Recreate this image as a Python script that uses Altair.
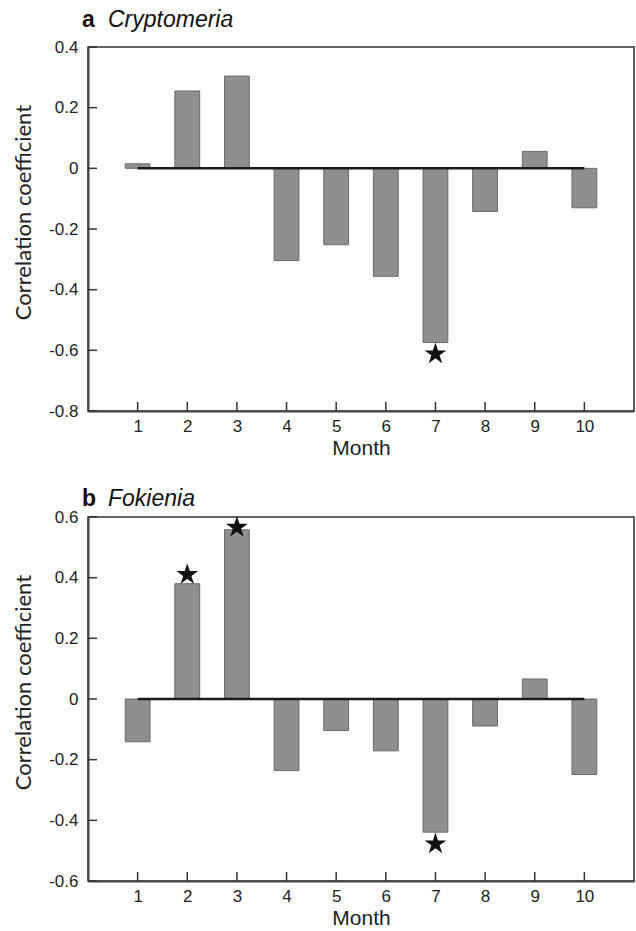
import altair as alt
import pandas as pd

# ---- data ----
months = [1, 2, 3, 4, 5, 6, 7, 8, 9, 10]
cryptomeria_r = [0.015, 0.255, 0.304, -0.304, -0.252, -0.356, -0.574, -0.142, 0.056, -0.130]
fokienia_r = [-0.141, 0.380, 0.558, -0.236, -0.104, -0.171, -0.439, -0.089, 0.066, -0.249]

cryptomeria_star_month = [7]
cryptomeria_star_y = [-0.612]
fokienia_star_month = [2, 3, 7]
fokienia_star_y = [0.41, 0.566, -0.478]

cryptomeria_ticks = [0.4, 0.2, 0.0, -0.2, -0.4, -0.6, -0.8]
fokienia_ticks = [0.6, 0.4, 0.2, 0.0, -0.2, -0.4, -0.6]

W, H = 546, 364
TICK = 9
STAR = ("M0,-1 L0.2245,-0.309 L0.951,-0.309 L0.363,0.118 L0.588,0.809 "
        "L0,0.382 L-0.588,0.809 L-0.363,0.118 L-0.951,-0.309 L-0.2245,-0.309 Z")
YT = "Correlation coefficient"
XT = "Month"
LABEL_EXPR = "datum.value == 0 ? '0' : (datum.value < 0 ? '-' : '') + format(abs(datum.value), '.1f')"


def panel(values, star_m, star_y, ticks, letter, genus, title_dy):
    ydom = [min(ticks), max(ticks)]
    xs = alt.Scale(domain=[0, 11], nice=False, zero=False)
    ys = alt.Scale(domain=ydom, nice=False, zero=False)
    df = pd.DataFrame({"month": months, "r": values})

    bars = alt.Chart(df).transform_calculate(
        xa="datum.month - 0.25", xb="datum.month + 0.25"
    ).mark_bar(fill="#8f8f8f", stroke="#6a6a6a", strokeWidth=1).encode(
        x=alt.X("xa:Q", scale=xs, title=XT,
                axis=alt.Axis(values=months, ticks=False, labelPadding=7,
                              titlePadding=3, grid=False)),
        x2="xb:Q",
        y=alt.Y("r:Q", scale=ys, title=YT,
                axis=alt.Axis(values=ticks, ticks=False, labelPadding=10,
                              titlePadding=13, titleY=H / 2 - 17,
                              labelExpr=LABEL_EXPR, grid=False)),
        y2=alt.datum(0),
    )

    zero = alt.Chart(pd.DataFrame({"x0": [min(months)], "x1": [max(months)]})).mark_rule(
        color="#1a1a1a", strokeWidth=2.5
    ).encode(
        x=alt.X("x0:Q", scale=xs, title=XT),
        x2="x1:Q",
        y=alt.datum(0),
    )

    yticks = alt.Chart(pd.DataFrame({"v": ticks})).mark_rule(
        color="#333", strokeWidth=1.5
    ).encode(
        y=alt.Y("v:Q", scale=ys, title=YT),
        x=alt.value(0), x2=alt.value(TICK),
    )

    xticks = alt.Chart(pd.DataFrame({"m": months})).mark_rule(
        color="#333", strokeWidth=1.5
    ).encode(
        x=alt.X("m:Q", scale=xs, title=XT),
        y=alt.value(H), y2=alt.value(H - TICK),
    )

    stars = alt.Chart(pd.DataFrame({"m": star_m, "s": star_y})).mark_point(
        shape=STAR, filled=True, fill="#111", strokeWidth=0, size=520, opacity=1
    ).encode(
        x=alt.X("m:Q", scale=xs, title=XT),
        y=alt.Y("s:Q", scale=ys, title=YT),
    )

    t1 = alt.Chart(pd.DataFrame({"t": [letter]})).mark_text(
        align="left", baseline="alphabetic", fontSize=23, fontWeight="bold",
        font="Liberation Sans", color="#111"
    ).encode(text="t:N", x=alt.value(-6), y=alt.value(title_dy))

    t2 = alt.Chart(pd.DataFrame({"t": [genus]})).mark_text(
        align="left", baseline="alphabetic", fontSize=23, fontStyle="italic",
        font="Liberation Sans", color="#111"
    ).encode(text="t:N", x=alt.value(20), y=alt.value(title_dy))

    return alt.layer(bars, zero, yticks, xticks, stars, t1, t2).properties(width=W, height=H)


a = panel(cryptomeria_r, cryptomeria_star_month, cryptomeria_star_y,
          cryptomeria_ticks, "a", "Cryptomeria", -20)
b = panel(fokienia_r, fokienia_star_month, fokienia_star_y,
          fokienia_ticks, "b", "Fokienia", -11)

chart = alt.vconcat(a, b, spacing=106, bounds="flush").properties(
    padding={"left": 11, "top": 8, "right": 0, "bottom": 0}
).configure_view(
    stroke="#333", strokeWidth=1.5
).configure_axis(
    domainColor="#444", domainWidth=2,
    labelFont="Liberation Sans", labelFontSize=17, labelColor="#222",
    titleFont="Lato", titleFontSize=22, titleFontWeight="normal", titleColor="#222",
).configure_axisX(
    titleFont="Liberation Sans", titleFontSize=21
)

chart.save("out.html", embed_options={"renderer": "svg", "actions": False})
